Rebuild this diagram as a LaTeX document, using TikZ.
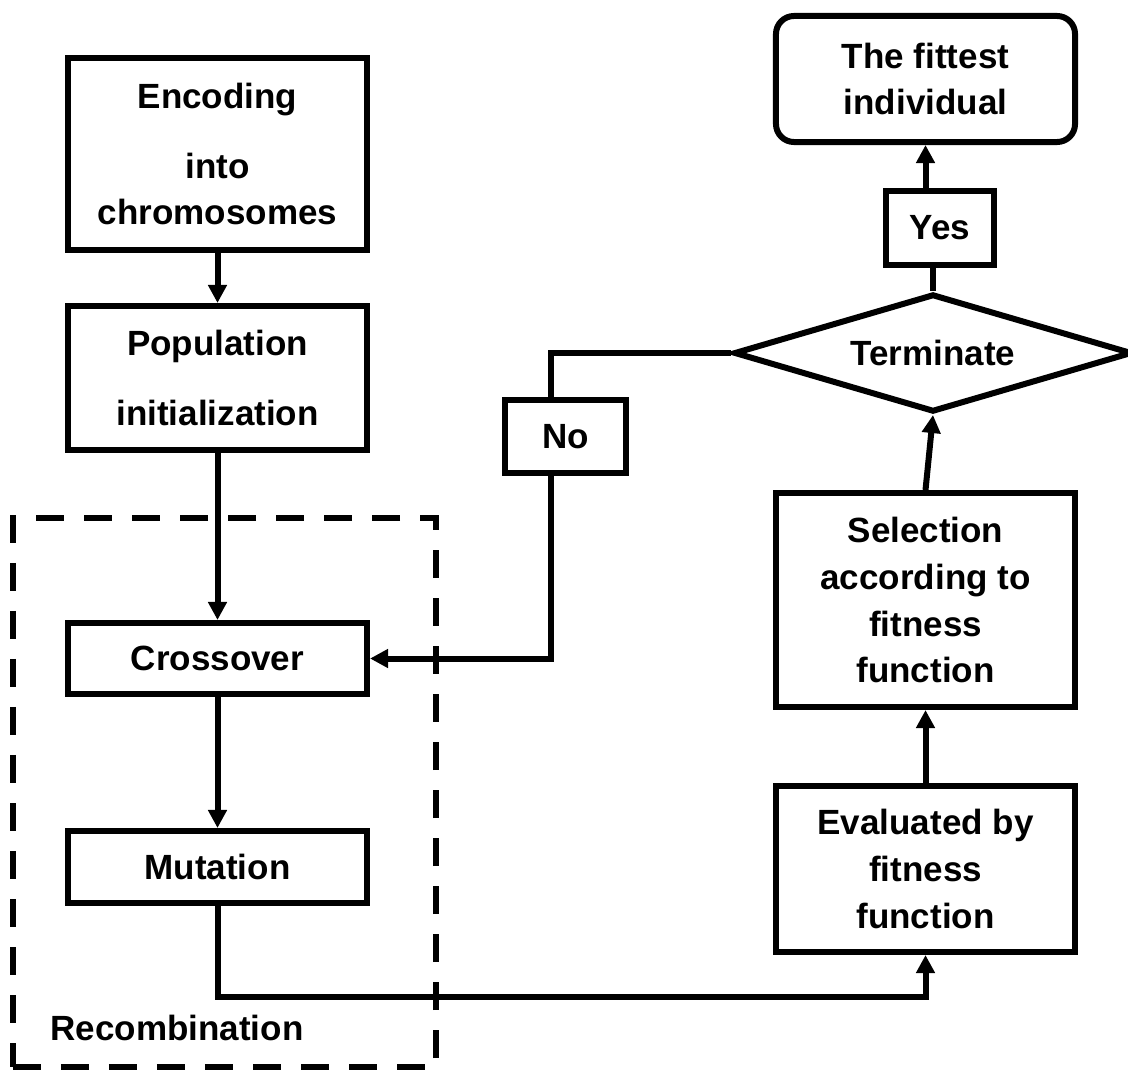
\documentclass[tikz,border=0pt]{standalone}
\usepackage{fontspec}
\setmainfont{Liberation Sans}
\usetikzlibrary{arrows.meta, shapes.geometric}
\tikzset{>={Triangle[length=0.45cm,width=0.45cm]}}
\tikzset{
  box/.style={draw, line width=0.15cm, align=center, inner sep=0pt, minimum width=7.475cm},
  tag/.style={draw, line width=0.15cm, inner sep=0pt},
  link/.style={line width=0.15cm},
}

\begin{document}
\begin{tikzpicture}[x=0.025cm, y=-0.025cm, font=\fontsize{24.9pt}{33.4pt}\selectfont\bfseries]
    \useasboundingbox (0,0) rectangle (1128,1071);
    \node[draw, line width=0.15cm, dash pattern=on 0.7cm off 0.5cm, minimum width=10.575cm, minimum height=13.725cm] (recbox) at (224.5,792.5) {};
    \node (reclabel) at (177,1028) {Recombination};
    \node[box, minimum height=4.8cm] (enc) at (217.5,154) {Encoding\\[0.575cm] into\\ chromosomes};
    \node[box, minimum height=3.6cm] (pop) at (217.5,378) {Population\\[0.575cm] initialization};
    \node[box, minimum height=1.775cm] (cross) at (217.5,658.5) {Crossover};
    \node[box, minimum height=1.8cm] (mut) at (217.5,867) {Mutation};
    \node[box, minimum height=4.15cm] (eva) at (925.5,869) {Evaluated by\\ fitness\\ function};
    \node[box, minimum height=5.35cm] (sel) at (925.5,600) {Selection\\ according to\\ fitness\\ function};
    \node[draw, line width=0.15cm, diamond, aspect=3.37, inner sep=0pt, minimum width=9.95cm, minimum height=2.95cm] (term) at (933,353) {Terminate};
    \node[tag, minimum width=2.7cm, minimum height=1.85cm] (yes) at (940,228) {Yes};
    \node[box, rounded corners=0.45cm, minimum height=3.15cm] (fit) at (925.5,79) {The fittest\\ individual};
    \node[tag, minimum width=3.025cm, minimum height=1.825cm] (no) at (565.5,436.5) {No};
    \coordinate (nobend) at (551,353);
    \coordinate (lowbend) at (217.5,997);
    \draw[link, ->] (enc.south) -- (pop.north);
    \draw[link, ->] (pop.south) -- (cross.north);
    \draw[link, ->] (cross.south) -- (mut.north);
    \draw[link, ->] (mut.south) -- (lowbend) -| (eva.south);
    \draw[link, ->] (eva.north) -- (sel.south);
    \draw[link, ->] (sel.north) -- (term.south);
    \draw[link] (term.north) -- (term.north |- yes.south);
    \draw[link, ->] (yes.north -| fit.south) -- (fit.south);
    \draw[link] (term.west) -- (nobend) -- (nobend |- no.north);
    \draw[link, ->] (nobend |- no.south) |- (cross.east);
\end{tikzpicture}
\end{document}
